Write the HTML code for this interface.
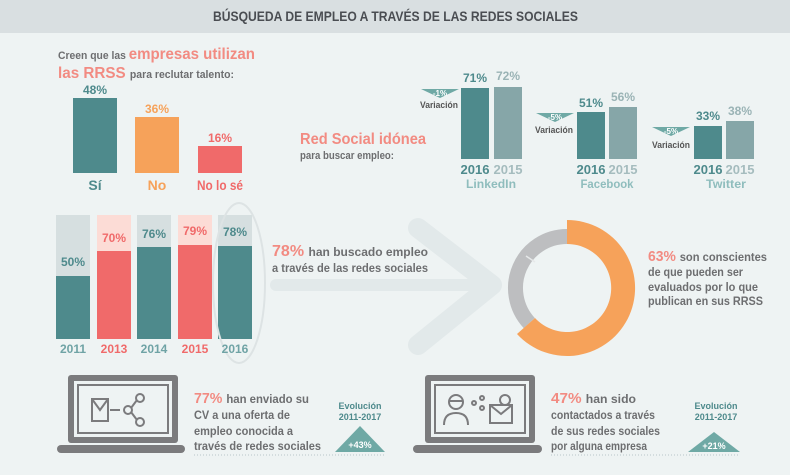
<!DOCTYPE html>
<html><head><meta charset="utf-8"><style>
html,body{margin:0;padding:0;background:#eef3f3;}
svg{display:block;font-family:"Liberation Sans",sans-serif;font-weight:bold;}
</style></head><body>
<svg width="790" height="475" viewBox="0 0 790 475" xmlns="http://www.w3.org/2000/svg">
<rect width="790" height="475" fill="#eef3f3"/>
<rect width="790" height="33" fill="#d9dfe1"/>
<text x="213" y="21" font-size="14" fill="#4a4d52" textLength="365" lengthAdjust="spacingAndGlyphs">BÚSQUEDA DE EMPLEO A TRAVÉS DE LAS REDES SOCIALES</text>

<!-- top-left -->
<text x="58" y="59" font-size="11" fill="#6d6e70" textLength="197" lengthAdjust="spacingAndGlyphs">Creen que las <tspan font-size="16" fill="#f28b82">empresas utilizan</tspan></text>
<text x="58" y="78" font-size="16" fill="#f28b82" textLength="176" lengthAdjust="spacingAndGlyphs">las RRSS <tspan font-size="11" fill="#6d6e70">para reclutar talento:</tspan></text>
<rect x="73" y="98" width="44" height="75" fill="#4e8a8c"/>
<rect x="135" y="117" width="44" height="56" fill="#f6a25a"/>
<rect x="198" y="146" width="44" height="27" fill="#f06a6a"/>
<g font-size="12" text-anchor="middle">
<text x="95" y="94" fill="#4e8a8c">48%</text>
<text x="157" y="113" fill="#f6a25a">36%</text>
<text x="220" y="142" fill="#f06a6a">16%</text>
<text x="95" y="190" font-size="14" fill="#4e8a8c">Sí</text>
<text x="157" y="190" font-size="14" fill="#f6a25a">No</text>
<text x="220" y="190" font-size="14" fill="#f06a6a" textLength="46" lengthAdjust="spacingAndGlyphs">No lo sé</text>
</g>

<!-- red social -->
<text x="300" y="144" font-size="16" fill="#f28b82" textLength="126" lengthAdjust="spacingAndGlyphs">Red Social idónea</text>
<text x="300" y="159" font-size="11" fill="#6d6e70" textLength="94" lengthAdjust="spacingAndGlyphs">para buscar empleo:</text>

<g font-size="12" text-anchor="middle">
<rect x="461" y="88" width="28" height="71" fill="#4e8a8c"/>
<rect x="494" y="87" width="28" height="72" fill="#86a6a8"/>
<text x="475" y="82" fill="#4e8a8c">71%</text><text x="508" y="80" fill="#9ab3b5">72%</text>
<text x="475" y="174" font-size="13" fill="#4e8a8c" textLength="29" lengthAdjust="spacingAndGlyphs">2016</text><text x="508" y="174" font-size="13" fill="#a5bcbe" textLength="29" lengthAdjust="spacingAndGlyphs">2015</text>
<text x="491" y="188" font-size="12" fill="#8fbdbd" textLength="50" lengthAdjust="spacingAndGlyphs">LinkedIn</text>
<polygon points="421,89 459,89 440,98" fill="#6fa9a5"/><text x="440" y="96" font-size="8" fill="#fff">-1%</text>
<text x="439" y="108" font-size="9" fill="#555" textLength="38" lengthAdjust="spacingAndGlyphs">Variación</text>

<rect x="577" y="112" width="28" height="47" fill="#4e8a8c"/>
<rect x="609" y="107" width="28" height="52" fill="#86a6a8"/>
<text x="591" y="107" fill="#4e8a8c">51%</text><text x="623" y="101" fill="#9ab3b5">56%</text>
<text x="591" y="174" font-size="13" fill="#4e8a8c" textLength="29" lengthAdjust="spacingAndGlyphs">2016</text><text x="623" y="174" font-size="13" fill="#a5bcbe" textLength="29" lengthAdjust="spacingAndGlyphs">2015</text>
<text x="607" y="188" font-size="12" fill="#8fbdbd" textLength="53" lengthAdjust="spacingAndGlyphs">Facebook</text>
<polygon points="536,113 574,113 555,122" fill="#6fa9a5"/><text x="555" y="120" font-size="8" fill="#fff">-5%</text>
<text x="554" y="133" font-size="9" fill="#555" textLength="38" lengthAdjust="spacingAndGlyphs">Variación</text>

<rect x="694" y="126" width="28" height="33" fill="#4e8a8c"/>
<rect x="726" y="121" width="28" height="38" fill="#86a6a8"/>
<text x="708" y="120" fill="#4e8a8c">33%</text><text x="740" y="115" fill="#9ab3b5">38%</text>
<text x="708" y="174" font-size="13" fill="#4e8a8c" textLength="29" lengthAdjust="spacingAndGlyphs">2016</text><text x="740" y="174" font-size="13" fill="#a5bcbe" textLength="29" lengthAdjust="spacingAndGlyphs">2015</text>
<text x="726" y="188" font-size="12" fill="#8fbdbd" textLength="40" lengthAdjust="spacingAndGlyphs">Twitter</text>
<polygon points="652,127 690,127 671,136" fill="#6fa9a5"/><text x="671" y="134" font-size="8" fill="#fff">-5%</text>
<text x="671" y="148" font-size="9" fill="#555" textLength="38" lengthAdjust="spacingAndGlyphs">Variación</text>
</g>

<!-- arrow -->
<g stroke="#e2e9ea" stroke-linecap="round" stroke-linejoin="round" fill="none">
<line x1="276" y1="285" x2="490" y2="285" stroke-width="12"/>
<polyline points="418,228 492,285 418,345" stroke-width="20"/>
</g>

<!-- year chart -->
<rect x="56" y="215" width="34" height="124" fill="#d6dfe0"/><rect x="56" y="276" width="34" height="63" fill="#4e8a8c"/>
<rect x="97" y="215" width="34" height="124" fill="#fcdcd6"/><rect x="97" y="251" width="34" height="88" fill="#f06a6a"/>
<rect x="137" y="215" width="34" height="124" fill="#d6dfe0"/><rect x="137" y="247" width="34" height="92" fill="#4e8a8c"/>
<rect x="178" y="215" width="34" height="124" fill="#fcdcd6"/><rect x="178" y="245" width="34" height="94" fill="#f06a6a"/>
<rect x="218" y="215" width="34" height="124" fill="#d6dfe0"/><rect x="218" y="246" width="34" height="93" fill="#4e8a8c"/>
<ellipse cx="239" cy="283" rx="26" ry="80" fill="none" stroke="#dde3e4" stroke-width="2"/>
<g font-size="12" text-anchor="middle">
<text x="73" y="266" fill="#4e8a8c">50%</text>
<text x="114" y="242" fill="#f06a6a">70%</text>
<text x="154" y="238" fill="#4e8a8c">76%</text>
<text x="195" y="235" fill="#f06a6a">79%</text>
<text x="235" y="236" fill="#4e8a8c">78%</text>
<text x="73" y="353" fill="#6fa3a5">2011</text>
<text x="114" y="353" fill="#f06a6a">2013</text>
<text x="154" y="353" fill="#6fa3a5">2014</text>
<text x="195" y="353" fill="#f06a6a">2015</text>
<text x="235" y="353" fill="#6fa3a5">2016</text>
</g>
<text x="272" y="256" font-size="16" fill="#f28b82" textLength="156" lengthAdjust="spacingAndGlyphs">78% <tspan font-size="12" fill="#6d6e70">han buscado empleo</tspan></text>
<text x="272" y="272" font-size="12" fill="#6d6e70" textLength="156" lengthAdjust="spacingAndGlyphs">a través de las redes sociales</text>

<!-- donut -->
<path d="M567,236.5 A51.5,51.5 0 0,0 529.3,323.1" fill="none" stroke="#bdbec0" stroke-width="15"/>
<line x1="526" y1="256" x2="535" y2="262" stroke="#e6e8e9" stroke-width="1.5"/>
<path d="M567,220 A68,68 0 1,1 517,334 L535,318 A44,44 0 1,0 567,244 Z" fill="#f6a25a"/>
<text x="648" y="261" font-size="15" fill="#f28b82" textLength="119" lengthAdjust="spacingAndGlyphs">63% <tspan font-size="12" fill="#6d6e70">son conscientes</tspan></text>
<g font-size="12" fill="#6d6e70">
<text x="648" y="276" textLength="95" lengthAdjust="spacingAndGlyphs">de que pueden ser</text>
<text x="648" y="291" textLength="110" lengthAdjust="spacingAndGlyphs">evaluados por lo que</text>
<text x="648" y="305" textLength="115" lengthAdjust="spacingAndGlyphs">publican en sus RRSS</text>
</g>

<!-- laptops -->
<g>
<rect x="68" y="375" width="110" height="68" rx="3" fill="#7b7b7d"/>
<rect x="74" y="381" width="98" height="56" fill="#eef3f3"/>
<rect x="78" y="385" width="90" height="48" fill="none" stroke="#7b7b7d" stroke-width="2"/>
<rect x="57" y="445" width="128" height="8" rx="4" fill="#7b7b7d"/>
<g fill="none" stroke="#7b7b7d" stroke-width="2"><rect x="92" y="399" width="16" height="22"/><polyline points="92,399 100,410 108,399"/>
<line x1="110" y1="410" x2="120" y2="410"/><circle cx="140" cy="398" r="4"/><circle cx="128" cy="410" r="4"/><circle cx="140" cy="422" r="4"/><line x1="131" y1="408" x2="137" y2="400"/><line x1="131" y1="412" x2="137" y2="420"/></g>
<rect x="425" y="375" width="110" height="68" rx="3" fill="#7b7b7d"/>
<rect x="431" y="381" width="98" height="56" fill="#eef3f3"/>
<rect x="435" y="385" width="90" height="48" fill="none" stroke="#7b7b7d" stroke-width="2"/>
<rect x="413" y="445" width="129" height="8" rx="4" fill="#7b7b7d"/>
<g fill="none" stroke="#7b7b7d" stroke-width="2"><circle cx="456" cy="402" r="7"/><path d="M444,425 q0,-12 12,-12 q12,0 12,12"/><line x1="449" y1="401" x2="463" y2="401"/>
<circle cx="482" cy="398" r="2"/><circle cx="474" cy="403" r="2"/><circle cx="482" cy="408" r="2"/>
<rect x="490" y="405" width="22" height="18"/><polyline points="490,405 501,414 512,405"/><circle cx="505" cy="400" r="5"/></g>
</g>
<text x="194" y="403" font-size="15" fill="#f28b82" textLength="115" lengthAdjust="spacingAndGlyphs">77% <tspan font-size="12" fill="#6d6e70">han enviado su</tspan></text>
<g font-size="12" fill="#6d6e70">
<text x="194" y="419" textLength="96" lengthAdjust="spacingAndGlyphs">CV a una oferta de</text>
<text x="194" y="435" textLength="99" lengthAdjust="spacingAndGlyphs">empleo conocida a</text>
<text x="194" y="450" textLength="127" lengthAdjust="spacingAndGlyphs">través de redes sociales</text>
<text x="551" y="419" textLength="104" lengthAdjust="spacingAndGlyphs">contactados a través</text>
<text x="551" y="435" textLength="109" lengthAdjust="spacingAndGlyphs">de sus redes sociales</text>
<text x="551" y="450" textLength="96" lengthAdjust="spacingAndGlyphs">por alguna empresa</text>
</g>
<text x="551" y="403" font-size="15" fill="#f28b82" textLength="85" lengthAdjust="spacingAndGlyphs">47% <tspan font-size="12" fill="#6d6e70">han sido</tspan></text>
<line x1="194" y1="455" x2="385" y2="455" stroke="#b8c6c8" stroke-dasharray="1,2"/>
<line x1="551" y1="455" x2="740" y2="455" stroke="#b8c6c8" stroke-dasharray="1,2"/>
<g font-size="9" fill="#4e8a8c" text-anchor="middle">
<text x="360" y="409">Evolución</text><text x="360" y="420">2011-2017</text>
<polygon points="360,426 385,452 335,452" fill="#6fa9a5"/>
<text x="360" y="448" fill="#fff">+43%</text>
<text x="716" y="409">Evolución</text><text x="716" y="420">2011-2017</text>
<polygon points="714,432 740,452 688,452" fill="#6fa9a5"/>
<text x="714" y="449" fill="#fff">+21%</text>
</g>
</svg>
</body></html>
